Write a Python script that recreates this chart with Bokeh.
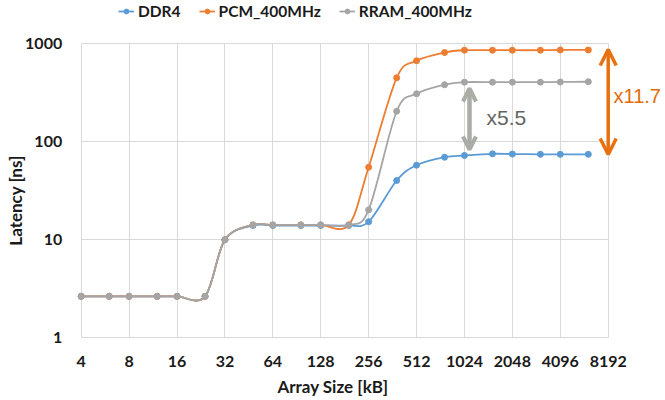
import numpy as np
from bokeh.plotting import figure
from bokeh.models import (FixedTicker, NumeralTickFormatter, Legend, LegendItem,
                          Arrow, OpenHead, Label)
from bokeh.embed import file_html
from bokeh.resources import INLINE

# ---- data ----
sizes = [4, 6, 8, 12, 16, 24, 32, 48, 64, 96, 128, 192,
         256, 384, 512, 768, 1024, 1536, 2048, 3072, 4096, 6144]
ddr4 = [2.65, 2.65, 2.65, 2.65, 2.65, 2.65, 10.0, 14.0, 14.0, 14.0, 14.0, 14.0,
        15.3, 40.3, 57.7, 69.6, 72.5, 75.4, 75.0, 74.5, 74.5, 74.5]
pcm = [2.65, 2.65, 2.65, 2.65, 2.65, 2.65, 10.0, 14.2, 14.2, 14.2, 14.2, 14.2,
       55.0, 450.0, 671.0, 815.0, 860.0, 860.0, 860.0, 860.0, 865.0, 865.0]
rram = [2.65, 2.65, 2.65, 2.65, 2.65, 2.65, 10.0, 14.2, 14.2, 14.2, 14.2, 14.2,
        20.2, 205.0, 309.0, 382.0, 406.0, 406.0, 406.0, 406.0, 408.0, 410.0]
series_names = ["DDR4", "PCM_400MHz", "RRAM_400MHz"]
x_ticks = [4, 8, 16, 32, 64, 128, 256, 512, 1024, 2048, 4096, 8192]
y_ticks = [1, 10, 100, 1000]
x_title = "Array Size [kB]"
y_title = "Latency [ns]"
ratio_rram = "x5.5"
ratio_pcm = "x11.7"

colors = ["#5B9BD5", "#ED7D31", "#A5A5A5"]
FONT = "Lato"
TXT = "#1a1a1a"
GRID = "#D9D9D9"

# ---- layout geometry (canvas pixels) ----
W, H = 665, 400
PLOT_L, PLOT_R = 80.7, 607.7      # pixel positions of x=4 and x=8192
PLOT_T, PLOT_B = 43.3, 337.3      # pixel positions of y=1000 and y=1
x_lo, x_hi = x_ticks[0], x_ticks[-1]
y_lo, y_hi = y_ticks[0], y_ticks[-1]
px_per_oct = (PLOT_R - PLOT_L) / np.log2(x_hi / x_lo)
px_per_dec = (PLOT_B - PLOT_T) / np.log10(y_hi / y_lo)
xr = (x_lo * 2 ** (-PLOT_L / px_per_oct), x_hi * 2 ** ((W - PLOT_R) / px_per_oct))
yr = (y_lo * 10 ** (-(H - PLOT_B) / px_per_dec), y_hi * 10 ** (PLOT_T / px_per_dec))


def x_at(px):
    return x_lo * 2 ** ((px - PLOT_L) / px_per_oct)


def y_at(py):
    return y_lo * 10 ** ((PLOT_B - py) / px_per_dec)


def smooth_segments(xs, ys):
    """Bezier control points (Excel-like smoothing) computed in log space."""
    u = np.log2(np.asarray(xs, float))
    v = np.log10(np.asarray(ys, float))
    n = len(u)
    up = np.concatenate([[u[0]], u, [u[-1]]])
    vp = np.concatenate([[v[0]], v, [v[-1]]])
    out = {k: [] for k in ("x0", "y0", "x1", "y1", "cx0", "cy0", "cx1", "cy1")}
    for i in range(n - 1):
        c1u = up[i + 1] + (up[i + 2] - up[i]) / 6.0
        c1v = vp[i + 1] + (vp[i + 2] - vp[i]) / 6.0
        c2u = up[i + 2] - (up[i + 3] - up[i + 1]) / 6.0
        c2v = vp[i + 2] - (vp[i + 3] - vp[i + 1]) / 6.0
        out["x0"].append(xs[i]); out["y0"].append(ys[i])
        out["x1"].append(xs[i + 1]); out["y1"].append(ys[i + 1])
        out["cx0"].append(2 ** c1u); out["cy0"].append(10 ** c1v)
        out["cx1"].append(2 ** c2u); out["cy1"].append(10 ** c2v)
    return out


p = figure(width=W, height=H, x_axis_type="log", y_axis_type="log",
           x_range=xr, y_range=yr,
           output_backend="svg", toolbar_location=None, min_border=0)
p.background_fill_color = "white"
p.border_fill_color = "white"
p.outline_line_color = None

items = []
for name, vals, col in zip(series_names, [ddr4, pcm, rram], colors):
    seg = smooth_segments(sizes, vals)
    r_line = p.bezier(line_color=col, line_width=1.8, **seg)
    r_pts = p.scatter(sizes, vals, size=6, marker="circle",
                      fill_color=col, line_color=col)
    items.append(LegendItem(label=name, renderers=[r_line, r_pts]))

legend = Legend(items=items, orientation="horizontal", location=(118, H - 8 - 12),
                glyph_width=16, glyph_height=12, label_height=12,
                label_standoff=4, spacing=18, padding=0, margin=0,
                border_line_color=None, background_fill_alpha=0,
                label_text_font=FONT, label_text_font_style="bold",
                label_text_font_size="15.5px", label_text_color=TXT)
p.add_layout(legend)

# axes (drawn at the plot-area edges)
p.xaxis.fixed_location = y_lo
p.yaxis.fixed_location = x_lo
p.xaxis.ticker = FixedTicker(ticks=x_ticks)
p.yaxis.ticker = FixedTicker(ticks=y_ticks)
p.xaxis.formatter = NumeralTickFormatter(format="0")
p.yaxis.formatter = NumeralTickFormatter(format="0")
p.xaxis.axis_label = x_title
p.yaxis.axis_label = y_title
for ax in (p.xaxis, p.yaxis):
    ax.axis_line_color = None
    ax.major_tick_line_color = None
    ax.minor_tick_line_color = None
    ax.major_tick_out = 0
    ax.major_tick_in = 0
    ax.minor_tick_out = 0
    ax.minor_tick_in = 0
    ax.major_label_text_font = FONT
    ax.major_label_text_font_style = "bold"
    ax.major_label_text_font_size = "16px"
    ax.major_label_text_color = TXT
    ax.axis_label_text_font = FONT
    ax.axis_label_text_font_style = "bold"
    ax.axis_label_text_font_size = "17px"
    ax.axis_label_text_color = TXT
p.xaxis.major_label_standoff = 18
p.xaxis.axis_label_standoff = 6
p.yaxis.major_label_standoff = 19
p.yaxis.axis_label_standoff = -4

# grid limited to the plot area
p.xgrid.ticker = FixedTicker(ticks=x_ticks)
p.ygrid.ticker = FixedTicker(ticks=y_ticks)
p.xgrid.cross_bounds = (y_lo, y_hi)
p.ygrid.cross_bounds = (x_lo, x_hi)
p.grid.grid_line_color = GRID
p.grid.grid_line_width = 1
p.grid.minor_grid_line_color = None

# annotations: ratio arrows
gray_arrow = "#AAACA6"
orange_arrow = "#E8700F"
p.add_layout(Arrow(start=OpenHead(size=13, line_color=gray_arrow, line_width=4),
                   end=OpenHead(size=13, line_color=gray_arrow, line_width=4),
                   x_start=x_at(469), y_start=y_at(149), x_end=x_at(469), y_end=y_at(88),
                   line_color=gray_arrow, line_width=4.5))
p.add_layout(Label(x=x_at(486), y=y_at(117), text=ratio_rram, text_font="Liberation Sans",
                   text_font_size="21px", text_color="#63655F",
                   text_baseline="middle", text_align="left"))
p.add_layout(Arrow(start=OpenHead(size=16, line_color=orange_arrow, line_width=3.5),
                   end=OpenHead(size=16, line_color=orange_arrow, line_width=3.5),
                   x_start=x_hi, y_start=y_at(154), x_end=x_hi, y_end=y_at(49),
                   line_color=orange_arrow, line_width=3.5))
p.add_layout(Label(x=x_at(613), y=y_at(95), text=ratio_pcm, text_font="Liberation Sans",
                   text_font_size="20px", text_color="#E36C0A",
                   text_baseline="middle", text_align="left"))

open("out.html", "w").write(file_html(p, INLINE))
